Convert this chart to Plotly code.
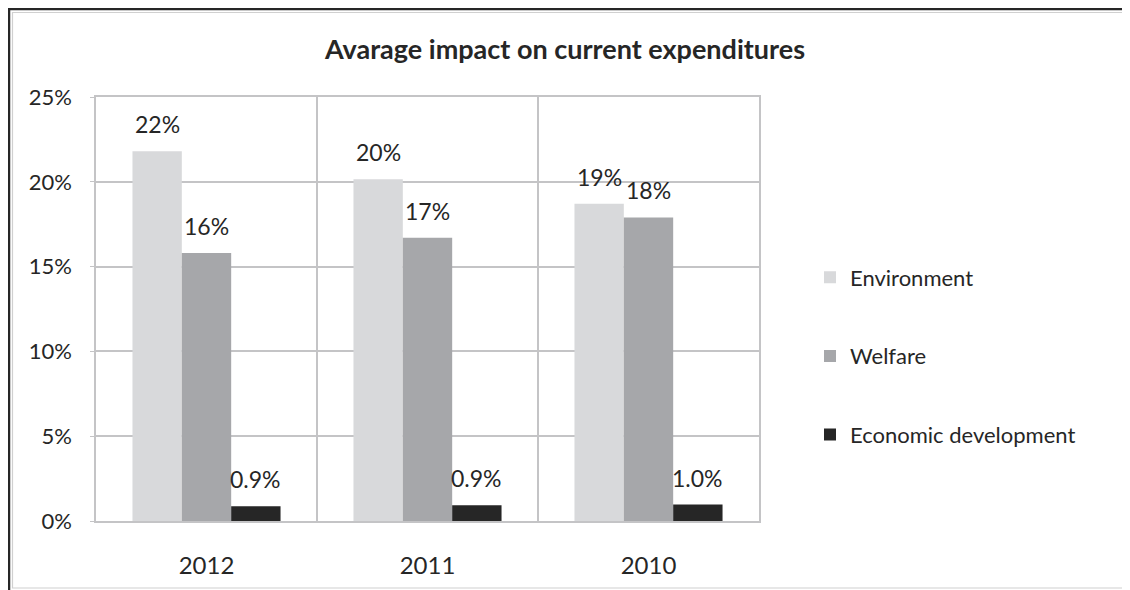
import plotly.graph_objects as go

years = ["2012", "2011", "2010"]
environment = [21.8, 20.15, 18.7]
welfare = [15.8, 16.7, 17.9]
economic = [0.87, 0.93, 0.97]
series_names = ["Environment", "Welfare", "Economic development"]
label_formats = [".0f", ".0f", ".1f"]
y_ticks = [0, 5, 10, 15, 20, 25]
y_tick_labels = ["0%", "5%", "10%", "15%", "20%", "25%"]

colors = ["#d8d9db", "#a6a7aa", "#262626"]
FONT = "Lato"
TXT = "#262626"
GRID = "#c4c4c6"

# page is offset by the browser's 8px body margin
OFF = 8
W, H = 1130 - OFF, 590 - OFF
L, T = 96 - OFF, 97 - OFF
R = W - (759 - OFF)
B = H - (521 - OFF)
pw, ph = W - L - R, H - T - B
BARGAP = 0.33

def px(x):
    return (x - L) / pw

def py(y):
    return (H - B - y) / ph

fig = go.Figure()
all_series = [environment, welfare, economic]
for k, (name, vals, col) in enumerate(zip(series_names, all_series, colors)):
    fig.add_trace(go.Bar(
        x=years, y=vals, name=name, marker=dict(color=col, line=dict(width=0)),
        legendgroup="g%d" % k, cliponaxis=False,
    ))

# data labels above each bar
bar_px = pw / len(years) * (1 - BARGAP) / len(series_names)
annotations = []
for k, (vals, fmt) in enumerate(zip(all_series, label_formats)):
    for i, v in enumerate(vals):
        annotations.append(dict(
            x=i, y=v, xref="x", yref="y", text=format(v, fmt) + "%",
            showarrow=False, xanchor="center", yanchor="bottom",
            xshift=(k - 1) * bar_px, yshift=11,
            font=dict(family=FONT, size=23, color=TXT),
        ))

fig.update_layout(
    width=W, height=H,
    margin=dict(l=L, r=R, t=T, b=B, autoexpand=False),
    paper_bgcolor="white", plot_bgcolor="white",
    barmode="group", bargap=BARGAP, bargroupgap=0,
    font=dict(family=FONT, color=TXT),
    title=dict(text="<b>Avarage impact on current expenditures</b>",
               x=(565 - OFF) / W, xanchor="center", xref="container",
               y=1 - (50 - OFF) / H, yanchor="middle", yref="container",
               font=dict(family=FONT, size=27, color=TXT)),
    legend=dict(x=px(810 - OFF), xanchor="left", y=py(356 - OFF), yanchor="middle",
                font=dict(family=FONT, size=22, color=TXT),
                traceorder="grouped", tracegroupgap=47, itemwidth=30,
                bgcolor="rgba(0,0,0,0)"),
    showlegend=True,
    annotations=annotations,
    shapes=[
        dict(type="rect", xref="paper", yref="paper",
             x0=px(1), x1=px(W + 20), y0=py(H + 20), y1=py(1),
             line=dict(color="#262626", width=2.5), layer="below"),
        dict(type="rect", xref="paper", yref="paper",
             x0=px(4.5), x1=px(W + 20), y0=py(588 - OFF), y1=py(4.5),
             line=dict(color="#d0d0d0", width=1.2), layer="below"),
    ],
)
fig.update_xaxes(
    type="category", tickson="boundaries", ticks="",
    showgrid=True, gridcolor=GRID, gridwidth=1.5,
    showline=True, linecolor=GRID, linewidth=1.5, mirror=True,
    tickfont=dict(family=FONT, size=24, color=TXT),
    ticklabelstandoff=22, automargin=False,
)
fig.update_yaxes(
    range=[0, 25], tickvals=y_ticks, ticktext=y_tick_labels,
    showgrid=True, gridcolor=GRID, gridwidth=1.5,
    showline=True, linecolor=GRID, linewidth=1.5, mirror=True,
    ticks="outside", ticklen=4, tickcolor=GRID,
    tickfont=dict(family=FONT, size=22, color=TXT),
    zeroline=False, ticklabelstandoff=14, automargin=False,
)

fig.write_html("out.html")
